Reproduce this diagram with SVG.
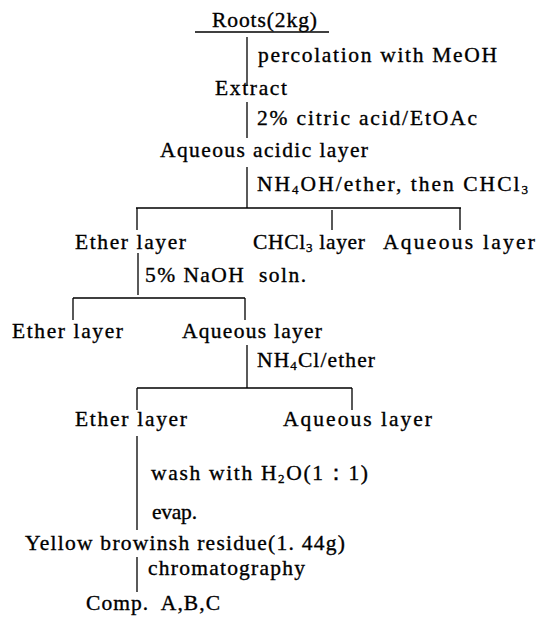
<svg xmlns="http://www.w3.org/2000/svg" width="539" height="626" viewBox="0 0 539 626">
  <style>
    text { font-family: "Liberation Serif", "Times New Roman", serif; font-size: 21.5px; fill: #000; stroke: #000; stroke-width: 0.35; }
    .sub { font-size: 13px; }
    .ln { stroke: #000; stroke-width: 1.3; fill: none; }
  </style>
  <rect width="539" height="626" fill="#fff"/>

  <!-- connectors: trunk lines, split bars and drop ticks -->
  <g id="connectors" class="ln">
    <path d="M195 32H329"/>
    <path d="M247 37V85"/>
    <path d="M247 102V138"/>
    <path d="M247 167V208"/>
    <path d="M136 208H461M137 208V230M332 210V230M460 208V230"/>
    <path d="M138 253V295"/>
    <path d="M73 298H245M73 298V320M245 298V320"/>
    <path d="M247 345V388"/>
    <path d="M137 388H352M137 388V410M352 388V410"/>
    <path d="M137 436V530"/>
    <path d="M137 557V592"/>
  </g>

  <!-- step labels beside the trunk lines -->
  <g id="steps">
    <text x="258" y="62" textLength="239" lengthAdjust="spacing">percolation with MeOH</text>
    <text x="257" y="125" textLength="220" lengthAdjust="spacing">2% citric acid/EtOAc</text>
    <text x="257" y="191" textLength="271" lengthAdjust="spacing">NH<tspan class="sub" dy="3">4</tspan><tspan dy="-3">OH/ether, then CHCl</tspan><tspan class="sub" dy="3">3</tspan></text>
    <text x="145" y="282" textLength="161" lengthAdjust="spacing" xml:space="preserve">5% NaOH  soln.</text>
    <text x="257" y="367" textLength="118" lengthAdjust="spacing">NH<tspan class="sub" dy="3">4</tspan><tspan dy="-3">Cl/ether</tspan></text>
    <text x="151" y="480" textLength="217" lengthAdjust="spacing">wash with H<tspan class="sub" dy="3">2</tspan><tspan dy="-3">O(1：1)</tspan></text>
    <text x="152" y="519" textLength="45" lengthAdjust="spacing">evap.</text>
    <text x="148" y="575" textLength="157" lengthAdjust="spacing">chromatography</text>
  </g>

  <g id="roots"><text x="212" y="27" textLength="105" lengthAdjust="spacing">Roots(2kg)</text></g>
  <g id="extract"><text x="215" y="95" textLength="72" lengthAdjust="spacing">Extract</text></g>
  <g id="aq-acidic"><text x="160" y="157" textLength="208" lengthAdjust="spacing">Aqueous acidic layer</text></g>

  <g id="ether-1"><text x="75" y="249" textLength="111" lengthAdjust="spacing">Ether layer</text></g>
  <g id="chcl3-1"><text x="253" y="249" textLength="112" lengthAdjust="spacing">CHCl<tspan class="sub" dy="3">3</tspan><tspan dy="-3"> layer</tspan></text></g>
  <g id="aqueous-1"><text x="383" y="249" textLength="152" lengthAdjust="spacing">Aqueous layer</text></g>

  <g id="ether-2"><text x="12" y="338" textLength="111" lengthAdjust="spacing">Ether layer</text></g>
  <g id="aqueous-2"><text x="182" y="338" textLength="140" lengthAdjust="spacing">Aqueous layer</text></g>

  <g id="ether-3"><text x="75" y="426" textLength="112" lengthAdjust="spacing">Ether layer</text></g>
  <g id="aqueous-3"><text x="283" y="426" textLength="149" lengthAdjust="spacing">Aqueous layer</text></g>

  <g id="residue"><text x="25" y="550" textLength="320" lengthAdjust="spacing">Yellow browinsh residue(1. 44g)</text></g>
  <g id="compounds"><text x="86" y="610" textLength="134" lengthAdjust="spacing" xml:space="preserve">Comp.  A,B,C</text></g>
</svg>
